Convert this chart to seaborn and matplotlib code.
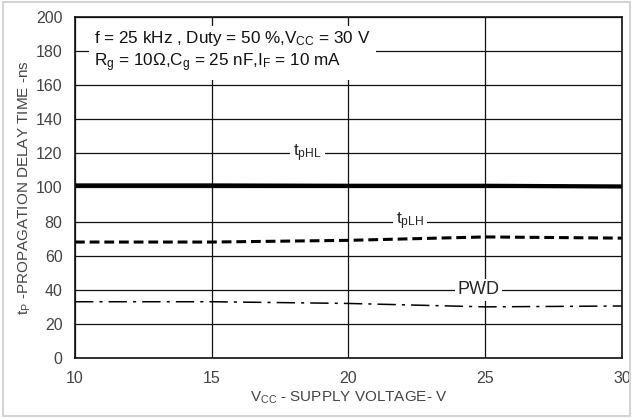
import matplotlib
matplotlib.use("Agg")
import numpy as np
import pandas as pd
import matplotlib.pyplot as plt
import seaborn as sns
from matplotlib.patches import Rectangle

vcc = [10, 15, 20, 25, 30]
t_phl = [101.2, 101.2, 101.0, 101.0, 100.6]
t_plh = [68.0, 68.0, 69.0, 71.0, 70.3]
pwd = [33.0, 33.0, 32.0, 30.0, 30.5]

x_ticks = [10, 15, 20, 25, 30]
y_ticks = list(range(0, 201, 20))

sns.set_theme(style="white")
plt.rcParams["font.family"] = ["Liberation Sans", "DejaVu Sans"]
plt.rcParams["mathtext.fontset"] = "custom"
plt.rcParams["mathtext.rm"] = "Liberation Sans"
plt.rcParams["mathtext.it"] = "Liberation Sans"

df = pd.DataFrame({"vcc": vcc * 3,
                   "t": t_phl + t_plh + pwd,
                   "series": ["tPHL"] * 5 + ["tPLH"] * 5 + ["PWD"] * 5})

fig = plt.figure(figsize=(6.33, 4.18), dpi=100)
fig.patch.set_facecolor("white")
fig.patches.append(Rectangle((0.004, 0.005), 0.992, 0.99, transform=fig.transFigure,
                             fill=False, edgecolor="#d4d4d4", lw=1.5))
ax = fig.add_axes([0.1185, 0.1435, 0.864, 0.816])

styles = {"tPHL": dict(lw=3.0, ls="-"),
          "tPLH": dict(lw=2.2, ls=(0, (3.2, 1.6))),
          "PWD": dict(lw=1.1, ls=(0, (12, 4, 2, 4)))}
for name, sub in df.groupby("series", sort=False):
    sns.lineplot(data=sub, x="vcc", y="t", ax=ax, color="black", **styles[name])

ax.set_xlim(10, 30)
ax.set_ylim(0, 200)
ax.set_xticks(x_ticks)
ax.set_yticks(y_ticks)
ax.grid(True, color="#111111", lw=0.9)
ax.set_axisbelow(True)
for s in ax.spines.values():
    s.set_color("#111111")
    s.set_linewidth(1.2)
ax.tick_params(axis="both", length=0, labelsize=11.5, colors="#444444", pad=9)
ax.set_xlabel(r"V$_{\mathregular{CC}}$ - SUPPLY VOLTAGE- V", fontsize=11, color="#444444", labelpad=3)
ax.set_ylabel(r"t$_{\mathregular{P}}$ -PROPAGATION DELAY TIME -ns", fontsize=11, color="#444444", labelpad=2)

box = dict(facecolor="white", edgecolor="none", pad=2)
ax.text(10.7, 193, "f = 25 kHz , Duty = 50 %,V$_{\\mathregular{CC}}$ = 30 V\n"
        "R$_{\\mathregular{g}}$ = 10Ω,C$_{\\mathregular{g}}$ = 25 nF,I$_{\\mathregular{F}}$ = 10 mA",
        fontsize=12.3, va="top", ha="left", color="#111111", linespacing=1.25,
        bbox=dict(facecolor="white", edgecolor="none", pad=4))
ax.text(18.5, 120, "t$_{\\mathregular{pHL}}$", fontsize=12.5, ha="center", va="center", bbox=box)
ax.text(22.25, 80, "t$_{\\mathregular{pLH}}$", fontsize=12.5, ha="center", va="center", bbox=box)
ax.text(24.75, 40, "PWD", fontsize=13, ha="center", va="center", bbox=box)

fig.savefig("out.png", dpi=100)
